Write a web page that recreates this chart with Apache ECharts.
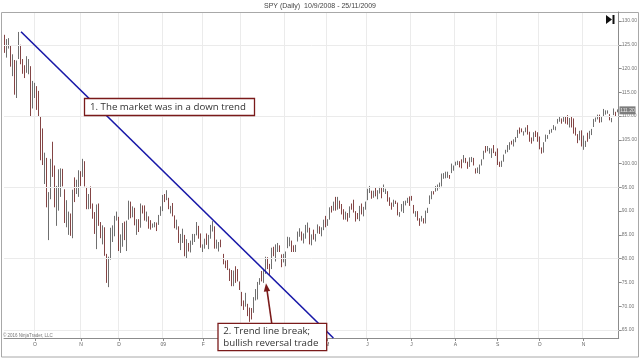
<!DOCTYPE html>
<html><head><meta charset="utf-8">
<script src="https://cdn.jsdelivr.net/npm/echarts@6/dist/echarts.min.js"></script>
<style>html,body{margin:0;padding:0;background:#fff}#c{width:640px;height:358px}</style>
</head><body><div id="c"></div>
<script>
// ---------- text ----------
const chartTitle = 'SPY (Daily)  10/9/2008 - 25/11/2009';
const copyrightText = '\u00A9 2016 NinjaTrader, LLC';
const note1 = '1. The market was in a down trend';
const note2 = '2. Trend line break;\nbullish reversal trade';

// ---------- trading days per month ----------
const monthKeys = ['2008-09','2008-10','2008-11','2008-12','2009-01','2009-02','2009-03','2009-04','2009-05','2009-06','2009-07','2009-08','2009-09','2009-10','2009-11'];
const tradingDays = {
 '2008-09':[10,11,12,15,16,17,18,19,22,23,24,25,26,29,30],
 '2008-10':[1,2,3,6,7,8,9,10,13,14,15,16,17,20,21,22,23,24,27,28,29,30,31],
 '2008-11':[3,4,5,6,7,10,11,12,13,14,17,18,19,20,21,24,25,26,28],
 '2008-12':[1,2,3,4,5,8,9,10,11,12,15,16,17,18,19,22,23,24,26,29,30,31],
 '2009-01':[2,5,6,7,8,9,12,13,14,15,16,20,21,22,23,26,27,28,29,30],
 '2009-02':[2,3,4,5,6,9,10,11,12,13,17,18,19,20,23,24,25,26,27],
 '2009-03':[2,3,4,5,6,9,10,11,12,13,16,17,18,19,20,23,24,25,26,27,30,31],
 '2009-04':[1,2,3,6,7,8,9,13,14,15,16,17,20,21,22,23,24,27,28,29,30],
 '2009-05':[1,4,5,6,7,8,11,12,13,14,15,18,19,20,21,22,26,27,28,29],
 '2009-06':[1,2,3,4,5,8,9,10,11,12,15,16,17,18,19,22,23,24,25,26,29,30],
 '2009-07':[1,2,6,7,8,9,10,13,14,15,16,17,20,21,22,23,24,27,28,29,30,31],
 '2009-08':[3,4,5,6,7,10,11,12,13,14,17,18,19,20,21,24,25,26,27,28,31],
 '2009-09':[1,2,3,4,8,9,10,11,14,15,16,17,18,21,22,23,24,25,28,29,30],
 '2009-10':[1,2,5,6,7,8,9,12,13,14,15,16,19,20,21,22,23,26,27,28,29,30],
 '2009-11':[2,3,4,5,6,9,10,11,12,13,16,17,18,19,20,23,24,25]
};
// month tick labels (first trading day of month)
const monthTickLabels = {'2008-10':'O','2008-11':'N','2008-12':'D','2009-01':'09','2009-02':'F','2009-03':'M','2009-04':'A','2009-05':'M','2009-06':'J','2009-07':'J','2009-08':'A','2009-09':'S','2009-10':'O','2009-11':'N'};

// ---------- OHLC per month: [open, close, low, high] ----------
const sep08 = [[126.2,124.5,123.3,127.1],[123.8,125.8,122.3,126.2],[125.0,126.0,124.2,126.4],[124.3,120.6,120.4,124.8],[119.3,122.4,118.4,123.0],[121.5,116.0,114.5,121.8],[116.5,121.3,113.8,121.7],[124.3,126.2,122.0,127.7],[124.6,121.1,120.9,125.0],[121.3,119.2,118.9,122.0],[119.6,118.9,118.0,120.7],[119.8,121.3,119.1,122.6],[119.6,121.7,118.8,122.0],[120.3,110.9,109.8,120.5],[112.3,116.9,111.6,117.4]];
const oct08 = [[115.8,116.4,113.8,117.0],[115.8,111.8,111.3,116.3],[112.8,110.3,109.9,115.3],[109.7,105.7,100.7,109.9],[106.6,100.0,99.7,107.4],[96.5,98.9,95.7,102.3],[99.4,91.4,90.8,101.2],[90.0,90.3,83.9,94.0],[93.5,100.8,92.5,101.0],[104.0,100.2,97.2,104.6],[99.3,91.1,90.8,99.6],[91.3,95.0,86.9,95.3],[93.6,94.4,90.1,98.8],[94.6,98.9,93.0,99.0],[98.0,95.9,95.2,98.9],[94.5,90.1,87.5,94.6],[90.3,91.2,86.6,92.3],[85.7,88.0,85.0,89.9],[87.3,85.3,84.8,89.5],[86.0,94.4,84.3,94.5],[93.6,93.4,91.9,97.1],[95.2,95.8,93.6,96.6],[94.6,97.2,93.0,98.6]];
const nov08 = [[97.0,96.8,95.3,98.4],[97.6,100.8,97.2,101.0],[100.3,95.5,95.2,100.5],[94.5,90.7,90.4,95.1],[91.5,93.2,90.4,93.6],[94.6,92.1,90.5,95.2],[91.3,90.1,88.4,91.6],[89.5,85.4,85.2,89.8],[85.7,91.3,82.0,91.4],[89.8,87.5,86.9,91.6],[86.5,85.2,84.3,87.7],[85.8,86.1,83.0,87.0],[85.8,80.8,80.6,86.6],[79.7,75.4,74.9,81.0],[76.1,80.2,74.0,80.4],[80.8,85.4,79.8,86.5],[85.3,85.9,83.5,87.0],[85.1,88.9,84.7,89.0],[88.6,89.8,88.0,89.9]];
const dec08 = [[88.6,81.8,81.6,88.8],[82.4,85.0,81.2,85.1],[83.9,87.2,82.5,87.5],[86.6,84.7,83.9,87.8],[84.2,87.8,81.6,88.0],[89.6,91.1,88.2,92.2],[90.1,89.0,88.5,92.0],[89.6,90.1,88.7,91.0],[89.5,87.5,87.0,90.7],[85.4,88.1,85.0,88.3],[88.1,87.0,85.6,88.3],[87.1,91.4,86.5,91.6],[90.9,90.6,89.5,91.2],[90.4,88.7,88.0,91.2],[88.8,88.9,87.8,89.9],[88.7,87.3,86.3,88.9],[87.5,86.4,86.1,88.1],[86.7,87.0,86.5,87.4],[87.1,87.4,86.6,87.7],[87.5,87.0,85.8,87.6],[87.1,89.1,87.1,89.2],[89.1,90.4,89.0,91.0]];
const jan09 = [[90.5,93.2,90.0,93.4],[92.9,92.8,91.9,93.6],[93.3,93.5,92.3,94.4],[92.7,90.7,90.4,92.8],[90.2,91.0,89.5,91.1],[91.0,89.1,88.9,91.7],[89.0,87.1,86.4,89.1],[87.1,87.2,86.1,88.2],[86.7,84.3,83.3,86.8],[84.2,84.4,81.8,85.2],[84.8,85.0,83.3,86.3],[84.9,80.5,80.5,85.0],[80.6,84.0,80.1,84.1],[83.2,82.8,81.5,83.3],[82.0,83.2,81.3,83.8],[83.2,83.7,82.9,85.2],[83.7,84.6,83.5,85.2],[85.0,87.4,84.9,87.7],[86.9,84.5,84.2,86.9],[84.5,82.6,82.3,85.3]];
const feb09 = [[82.1,82.5,81.4,83.0],[82.8,83.9,82.1,84.2],[83.9,83.2,82.9,85.3],[82.9,84.6,82.0,85.0],[84.5,86.9,84.2,87.1],[86.9,87.0,85.7,87.9],[86.4,82.7,82.1,86.8],[82.8,83.4,82.1,84.0],[82.8,83.5,81.5,83.5],[83.6,82.7,82.4,84.0],[81.0,78.9,78.8,81.0],[79.2,78.8,78.0,79.6],[79.0,77.9,77.6,79.7],[77.2,77.0,75.3,77.9],[77.3,74.3,74.2,77.6],[74.4,77.3,74.2,77.5],[77.1,76.5,74.9,78.4],[77.2,75.3,75.2,77.8],[74.5,73.5,73.4,75.2]];
const mar09 = [[72.9,70.1,70.0,73.0],[70.6,69.6,69.2,71.2],[70.4,71.3,69.9,72.8],[70.4,68.3,67.9,70.5],[68.7,68.3,66.7,69.7],[67.8,67.7,67.2,69.6],[68.9,71.9,68.6,71.9],[72.0,72.1,71.2,73.6],[71.9,75.1,71.4,75.1],[75.2,75.6,74.5,75.9],[76.0,75.4,75.2,77.4],[75.4,77.8,74.9,77.8],[77.6,79.4,76.8,80.4],[79.5,78.4,77.8,80.3],[78.5,76.9,76.4,78.9],[78.0,82.3,77.8,82.3],[82.1,80.6,80.5,82.5],[81.0,81.4,79.4,83.0],[81.6,83.3,81.4,83.3],[82.8,81.6,81.4,82.8],[80.9,78.8,78.2,80.9],[79.2,79.8,79.2,81.0]];
const apr09 = [[79.4,81.1,78.4,81.5],[82.3,83.4,82.2,84.6],[83.1,84.3,82.6,84.5],[83.8,83.6,81.4,83.8],[82.8,81.6,81.4,82.8],[81.9,82.5,81.4,82.9],[83.7,85.7,83.6,85.7],[85.5,85.9,84.6,86.4],[85.5,84.2,83.8,85.7],[83.9,85.2,83.2,85.3],[85.3,86.5,84.2,87.1],[86.5,87.0,85.5,87.6],[86.5,83.2,83.0,86.5],[83.1,85.0,82.8,85.1],[84.9,84.4,84.0,86.1],[84.6,85.2,83.6,85.2],[85.6,86.6,85.3,87.2],[86.2,85.8,85.2,86.8],[85.3,85.5,84.7,86.6],[86.1,87.4,86.0,88.2],[88.0,87.3,86.6,89.0]];
const may09 = [[87.4,87.8,86.9,88.3],[88.6,90.7,88.2,90.8],[90.4,90.4,89.7,91.1],[91.2,92.0,90.1,92.0],[92.1,90.7,90.1,93.0],[91.4,92.9,90.3,93.0],[91.7,90.9,90.5,92.2],[91.1,90.8,89.3,91.5],[90.3,88.4,88.2,90.4],[88.5,89.3,88.2,89.9],[89.3,88.3,87.8,89.6],[88.9,91.0,88.6,91.0],[91.1,90.8,90.3,91.6],[91.0,90.4,89.7,92.4],[89.8,88.8,87.8,90.0],[89.0,88.7,88.3,89.6],[88.6,91.0,87.9,91.1],[90.9,89.3,89.3,91.6],[89.4,90.7,88.9,90.9],[90.8,91.9,90.3,92.0]];
const jun09 = [[92.4,94.3,92.3,94.7],[94.1,94.5,93.8,95.3],[94.2,93.2,92.6,94.3],[93.1,94.3,92.8,94.3],[94.6,94.0,93.1,95.0],[93.8,93.9,92.5,94.4],[94.0,94.2,93.7,95.1],[94.5,93.9,92.7,94.9],[94.1,94.5,94.0,95.6],[94.4,94.6,93.6,94.7],[94.2,92.4,92.0,94.2],[92.4,91.2,91.1,92.9],[91.2,91.1,90.3,91.8],[91.0,91.8,90.9,92.4],[92.2,92.1,91.5,92.2],[91.8,89.3,89.1,91.8],[89.3,89.5,88.8,89.8],[89.9,90.1,89.9,91.5],[89.9,92.0,89.6,92.1],[91.8,91.9,91.2,92.2],[92.0,92.7,91.7,92.8],[92.8,91.9,91.1,93.1]];
const jul09 = [[92.4,92.3,92.2,93.2],[91.2,89.6,89.5,91.3],[89.1,89.9,88.8,90.0],[89.8,88.1,88.0,90.0],[88.2,88.0,86.9,88.5],[88.2,88.3,87.8,89.0],[87.9,87.9,87.4,88.5],[88.2,90.1,87.4,90.1],[90.1,90.6,89.6,90.7],[91.6,93.3,91.5,93.3],[92.9,94.1,92.5,94.2],[94.0,94.0,93.5,94.2],[94.4,95.1,94.1,95.3],[95.3,95.5,94.3,95.6],[95.1,95.4,94.8,96.0],[95.5,97.6,95.2,97.9],[97.3,97.9,96.8,98.0],[97.9,98.2,96.9,98.3],[97.7,98.0,97.0,98.3],[97.6,97.5,96.8,97.6],[98.2,98.7,98.0,100.0],[98.6,98.8,98.5,99.6]];
const aug09 = [[99.6,100.3,99.6,100.4],[100.1,100.6,99.7,100.6],[100.4,100.3,99.2,100.5],[100.5,99.7,99.0,100.9],[100.5,101.1,100.2,101.8],[100.9,100.7,100.1,101.2],[100.4,99.4,98.9,100.4],[99.5,100.6,99.3,101.3],[100.7,101.3,100.3,101.4],[101.1,100.4,99.6,101.2],[99.0,98.0,97.9,99.0],[98.1,99.0,98.0,99.2],[98.3,99.7,97.8,99.8],[99.7,100.7,99.6,100.9],[101.3,102.6,100.9,102.7],[102.8,102.6,102.3,103.7],[102.7,102.8,102.6,103.7],[102.7,102.8,102.1,103.3],[102.5,103.1,101.2,103.2],[103.9,102.9,102.2,103.9],[102.4,102.1,101.6,102.5]];
const sep09 = [[102.0,100.0,99.7,103.2],[99.9,99.6,99.3,100.4],[99.7,100.5,99.3,100.6],[100.5,101.8,100.4,101.9],[102.3,102.8,102.1,102.9],[102.6,103.5,102.4,103.9],[103.4,104.5,102.9,104.5],[104.5,104.4,104.0,104.8],[103.8,105.0,103.6,105.1],[104.8,105.3,104.5,105.6],[105.5,107.0,105.4,107.1],[106.9,106.7,106.3,107.6],[107.1,107.0,106.6,107.4],[106.4,106.6,105.9,106.8],[107.0,107.3,106.6,107.6],[107.3,106.2,106.1,108.1],[106.3,105.2,104.6,106.7],[105.0,104.5,104.2,105.5],[104.8,106.4,104.7,106.6],[106.5,106.2,105.6,106.9],[106.3,105.9,104.6,106.6]];
const oct09 = [[105.7,103.1,103.0,105.7],[102.8,102.6,102.1,103.4],[102.7,104.2,102.3,104.5],[104.7,105.6,104.6,106.1],[105.5,105.9,105.2,106.0],[106.2,106.7,106.2,107.1],[106.6,107.3,106.5,107.3],[107.4,107.7,107.1,108.1],[107.4,107.5,107.0,107.8],[108.5,109.3,108.4,109.4],[109.0,109.8,108.8,109.8],[109.3,108.9,108.4,109.5],[109.0,109.9,108.8,110.0],[109.9,109.2,108.4,110.0],[109.3,108.3,108.2,110.2],[108.0,109.4,107.6,109.6],[109.6,108.1,107.6,110.0],[108.3,106.8,106.3,109.5],[106.8,106.5,105.9,107.6],[106.1,104.4,104.3,106.2],[105.0,106.7,104.9,106.9],[106.8,103.7,103.6,107.0]];
const nov09 = [[104.0,104.4,102.9,105.9],[103.7,104.6,103.5,104.8],[105.1,104.7,104.6,106.5],[105.3,106.8,105.2,106.9],[106.2,107.0,106.0,107.3],[107.7,109.4,107.7,109.4],[109.2,109.3,108.8,109.7],[109.8,109.9,109.3,110.3],[109.9,108.8,108.6,110.3],[109.1,109.4,108.7,109.8],[110.1,111.0,110.0,111.5],[110.6,111.1,110.3,111.2],[111.0,111.1,110.5,111.2],[110.3,109.6,109.1,110.4],[109.1,109.2,108.7,109.6],[110.3,110.7,110.2,111.6],[110.7,110.6,109.9,110.9],[110.9,111.2,110.8,111.4]];
const monthlyOHLC = [sep08,oct08,nov08,dec08,jan09,feb09,mar09,apr09,may09,jun09,jul09,aug09,sep09,oct09,nov09];

// ---------- axis values ----------
const yMin = 63.3, yMax = 131.9;
const yTickValues = [65,70,75,80,85,90,95,100,105,110,115,120,125,130];
const yGridValues = [65,80,95,110,125];
// trend line end points: [category index, price]
const trendStart = [7.8, 127.75];
const trendEnd = [164, 63.3];

// ---------- build category + data ----------
const dates = [], ohlc = [], monthStartIdx = {};
monthKeys.forEach((mk, m) => {
  const days = tradingDays[mk], rows = monthlyOHLC[m];
  days.forEach((d, k) => {
    const key = mk + '-' + String(d).padStart(2, '0');
    if (k === 0) monthStartIdx[dates.length] = mk;
    dates.push(key);
    ohlc.push(rows[k]);
  });
});
const lastClose = ohlc[ohlc.length - 1][1];
const isMonthStart = (i) => monthStartIdx[i] !== undefined && monthTickLabels[monthStartIdx[i]] !== undefined;

const chart = echarts.init(document.getElementById('c'), null, {renderer: 'canvas'});
const axisGray = '#8c8c8c';
chart.setOption({
  animation: false,
  backgroundColor: '#ffffff',
  grid: {left: 4, right: 21, top: 12, bottom: 20, containLabel: false},
  xAxis: {
    type: 'category', data: dates, boundaryGap: true,
    axisLine: {show: true, lineStyle: {color: axisGray, width: 1}},
    axisTick: {show: true, alignWithLabel: true, interval: (i) => isMonthStart(i), length: 3, lineStyle: {color: axisGray}},
    axisLabel: {interval: (i) => isMonthStart(i), formatter: (v) => monthTickLabels[v.slice(0, 7)] || '',
      fontSize: 5, color: '#666', margin: 4, fontFamily: 'Liberation Sans'},
    splitLine: {show: true, interval: (i) => isMonthStart(i), lineStyle: {color: '#ebebeb', width: 1}}
  },
  yAxis: {
    type: 'value', position: 'right', min: yMin, max: yMax,
    axisLine: {show: true, lineStyle: {color: axisGray, width: 1}},
    axisTick: {show: true, customValues: yTickValues, length: 3, lineStyle: {color: axisGray}},
    axisLabel: {customValues: yTickValues, formatter: (v) => v.toFixed(2), fontSize: 5, color: '#777', margin: 3, fontFamily: 'Liberation Sans'},
    splitLine: {show: false}
  },
  series: [
    {
      type: 'line', data: [], z: 1, silent: true,
      markLine: {silent: true, symbol: 'none', label: {show: false}, animation: false,
        lineStyle: {color: '#ebebeb', type: 'solid', width: 1},
        data: yGridValues.map(v => ({yAxis: v}))}
    },
    {
      type: 'candlestick', data: ohlc, z: 3, barWidth: 1,
      itemStyle: {color: '#d0d0d0', color0: '#7a1414', borderColor: '#4a4a4a', borderColor0: '#641515', borderWidth: 0.8}
    },
    {
      type: 'line', data: [], z: 5, silent: true,
      markLine: {silent: true, symbol: 'none', label: {show: false}, animation: false,
        lineStyle: {color: '#1818a8', type: 'solid', width: 1.6},
        data: [[{coord: trendStart}, {coord: trendEnd}]]}
    }
  ]
});

const yLast = chart.convertToPixel({yAxisIndex: 0}, lastClose);
const darkRed = '#7a1a1a';
chart.setOption({
  graphic: [
    {type: 'rect', shape: {x: 1.5, y: 12.5, width: 637, height: 344.5}, style: {fill: 'none', stroke: '#a8a8a8', lineWidth: 1}, z: 0, silent: true},
    {type: 'text', x: 320, y: 6, style: {text: chartTitle, font: '7px "Liberation Sans"', fill: '#444', align: 'center', verticalAlign: 'middle'}},
    {type: 'text', x: 3, y: 335.5, style: {text: copyrightText, font: '4.5px "Liberation Sans"', fill: '#777', verticalAlign: 'middle'}},
    {type: 'polygon', shape: {points: [[606, 15], [606, 24], [612, 19.5]]}, style: {fill: '#111'}},
    {type: 'rect', shape: {x: 612.5, y: 15, width: 2, height: 9}, style: {fill: '#111'}},
    {type: 'rect', shape: {x: 619.5, y: yLast - 4, width: 16, height: 8}, style: {fill: '#7d7d7d'}, z: 10},
    {type: 'text', x: 627.5, y: yLast, style: {text: lastClose.toFixed(2), font: '5px "Liberation Sans"', fill: '#e8e8e8', align: 'center', verticalAlign: 'middle'}, z: 11},
    // annotation 1
    {type: 'rect', shape: {x: 84.5, y: 98.5, width: 170, height: 17}, style: {fill: '#fff', stroke: darkRed, lineWidth: 1.3}, z: 20},
    {type: 'text', x: 90, y: 107.3, style: {text: note1, font: '9.7px "Open Sans"', fill: '#333', verticalAlign: 'middle'}, z: 21},
    // annotation 2 + arrow
    {type: 'line', shape: {x1: 271.7, y1: 323, x2: 267.0, y2: 290.2}, style: {stroke: darkRed, lineWidth: 1.6}, z: 20},
    {type: 'polygon', shape: {points: [[266, 283.3], [270.2, 291.0], [263.8, 291.8]]}, style: {fill: darkRed}, z: 20},
    {type: 'rect', shape: {x: 218, y: 323.3, width: 108.7, height: 27.4}, style: {fill: '#fff', stroke: darkRed, lineWidth: 1.3}, z: 20},
    {type: 'text', x: 223.3, y: 325.2, style: {text: note2, font: '9.7px "Open Sans"', lineHeight: 11.7, fill: '#333', verticalAlign: 'top'}, z: 21}
  ]
});
</script>
</body></html>
